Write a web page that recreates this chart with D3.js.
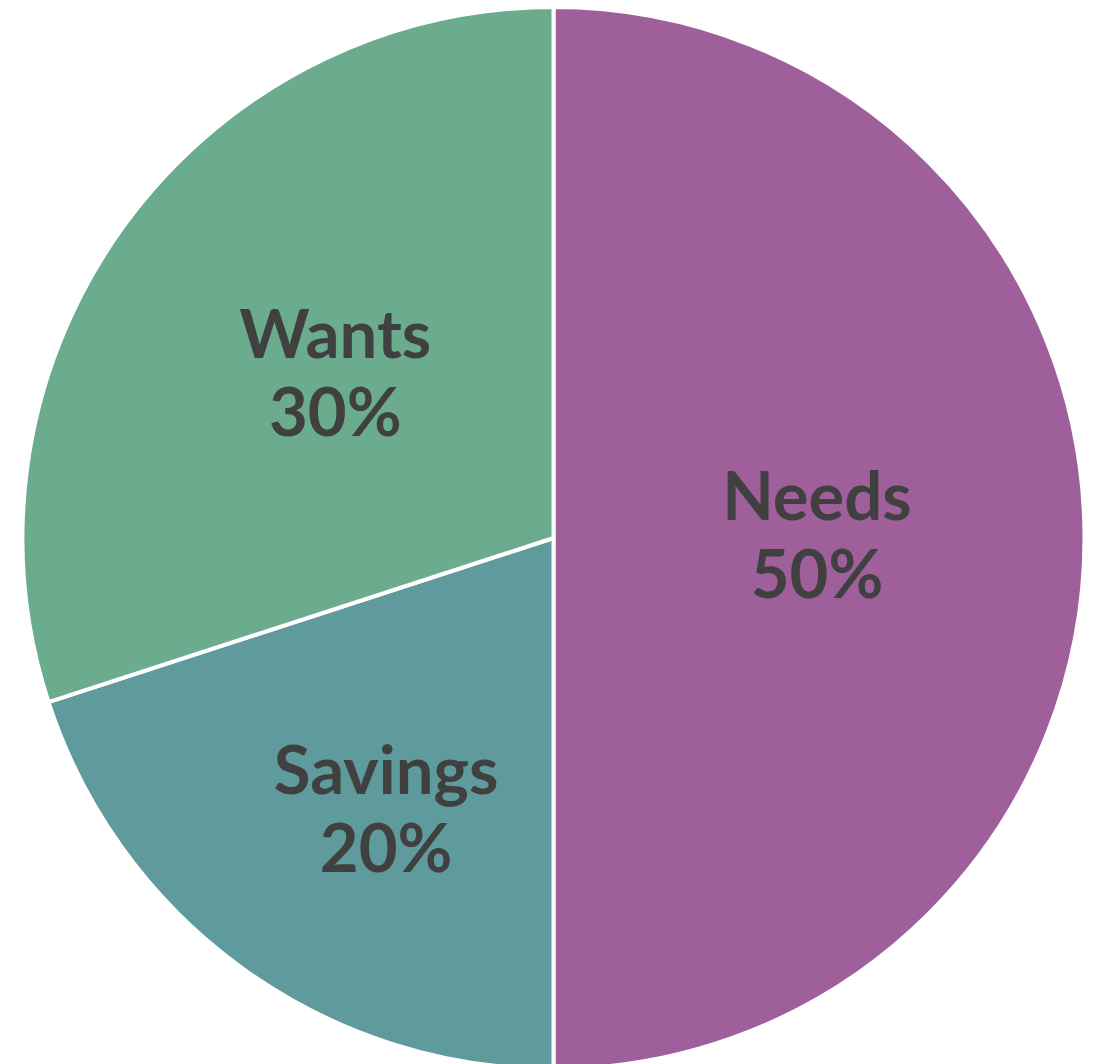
<!DOCTYPE html>
<html><head><meta charset="utf-8">
<script src="https://cdn.jsdelivr.net/npm/d3@7"></script>
<style>html,body{margin:0;padding:0;background:#fff}</style>
</head><body>
<svg id="chart" width="1096" height="1064"></svg>
<script>
const categories = ["Needs", "Savings", "Wants"];
const values = [50, 20, 30];
const colors = ["#9E5F9A", "#5F9B9D", "#6BAC8F"];

const W = 1096, H = 1064;
const cx = 553.5, cy = 538, R = 531;
// label layout (radius fraction and small nudge), mimicking "best fit" placement
const labelLayout = {
  Needs:   {r: 0.5,   dx: -2, dy: -3},
  Savings: {r: 0.61,  dx: 23, dy: 9},
  Wants:   {r: 0.515, dx: 3,  dy: -4}
};

const svg = d3.select("#chart");
const g = svg.append("g").attr("transform", `translate(${cx},${cy})`);
const data = categories.map((c, i) => ({cat: c, val: values[i], color: colors[i]}));
const pie = d3.pie().value(d => d.val).sort(null);
const arcs = pie(data);
const arc = d3.arc().innerRadius(0).outerRadius(R);

g.selectAll("path").data(arcs).join("path")
  .attr("d", arc)
  .attr("fill", d => d.data.color)
  .attr("stroke", "#fff")
  .attr("stroke-width", 4)
  .attr("stroke-linejoin", "round");

const total = d3.sum(values);
const fs = 67;
const lbl = g.selectAll("text.lbl").data(arcs).join("text")
  .attr("class", "lbl")
  .attr("transform", d => {
    const L = labelLayout[d.data.cat];
    const r = R * L.r;
    const c = d3.arc().innerRadius(r).outerRadius(r).centroid(d);
    return `translate(${c[0] + L.dx},${c[1] + L.dy})`;
  })
  .attr("text-anchor", "middle")
  .attr("font-family", "Lato, 'DejaVu Sans', sans-serif")
  .attr("font-weight", "bold")
  .attr("font-size", fs)
  .attr("fill", "#404040");
lbl.append("tspan").attr("x", 0).attr("y", -15.5).text(d => d.data.cat);
lbl.append("tspan").attr("x", 0).attr("y", 62.5).text(d => Math.round(d.data.val / total * 100) + "%");
</script>
</body></html>
